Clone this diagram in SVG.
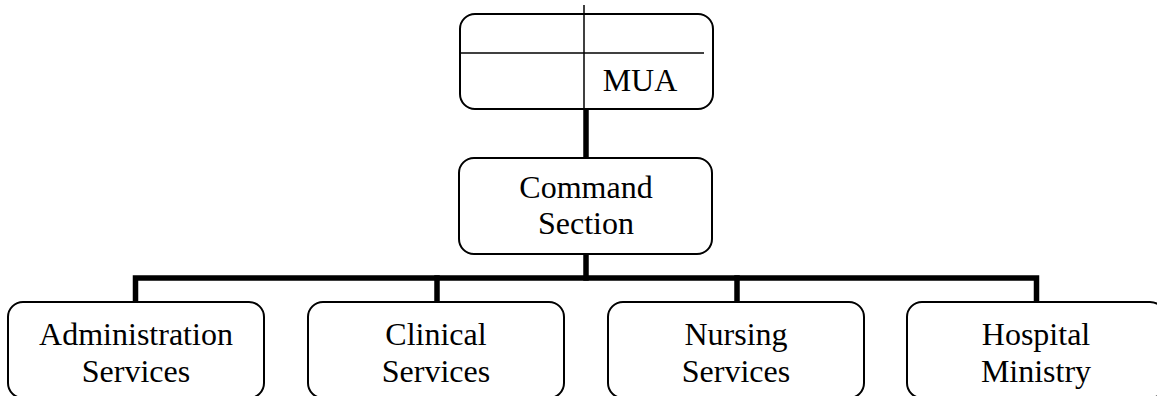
<svg xmlns="http://www.w3.org/2000/svg" width="1157" height="396" viewBox="0 0 1157 396">
<style>
.box{fill:#fff;stroke:#000;stroke-width:2}
.thin{stroke:#000;stroke-width:1.5;fill:none}
.conn{stroke:#000;stroke-width:5.5;fill:none;stroke-linecap:square}
text{font-family:"Liberation Serif","Times New Roman",serif;font-size:32px;fill:#000;text-anchor:middle}
</style>
<rect width="1157" height="396" fill="#fff"/>
<g id="connectors">
<line class="conn" x1="586" y1="110" x2="586" y2="157"/>
<line class="conn" x1="586" y1="255" x2="586" y2="278"/>
<polyline class="conn" points="135.5,301 135.5,278 1036.5,278 1036.5,301"/>
<line class="conn" x1="437" y1="278" x2="437" y2="301"/>
<line class="conn" x1="737" y1="278" x2="737" y2="301"/>
</g>
<g id="mua">
<rect class="box" x="460" y="14" width="253" height="95" rx="15"/>
<line class="thin" x1="461" y1="53" x2="704" y2="53"/>
<line class="thin" x1="584" y1="5" x2="584" y2="109"/>
<text x="640" y="91">MUA</text>
</g>
<g id="command">
<rect class="box" x="459" y="158" width="253" height="96" rx="15"/>
<text x="586" y="198">Command</text>
<text x="586" y="234">Section</text>
</g>
<g id="admin">
<rect class="box" x="8" y="302" width="256" height="96" rx="15"/>
<text x="136" y="345">Administration</text>
<text x="136" y="382">Services</text>
</g>
<g id="clinical">
<rect class="box" x="308" y="302" width="256" height="96" rx="15"/>
<text x="436" y="345">Clinical</text>
<text x="436" y="382">Services</text>
</g>
<g id="nursing">
<rect class="box" x="608" y="302" width="256" height="96" rx="15"/>
<text x="736" y="345">Nursing</text>
<text x="736" y="382">Services</text>
</g>
<g id="hospital">
<rect class="box" x="907" y="302" width="258" height="96" rx="15"/>
<text x="1036" y="345">Hospital</text>
<text x="1036" y="382">Ministry</text>
</g>
</svg>
